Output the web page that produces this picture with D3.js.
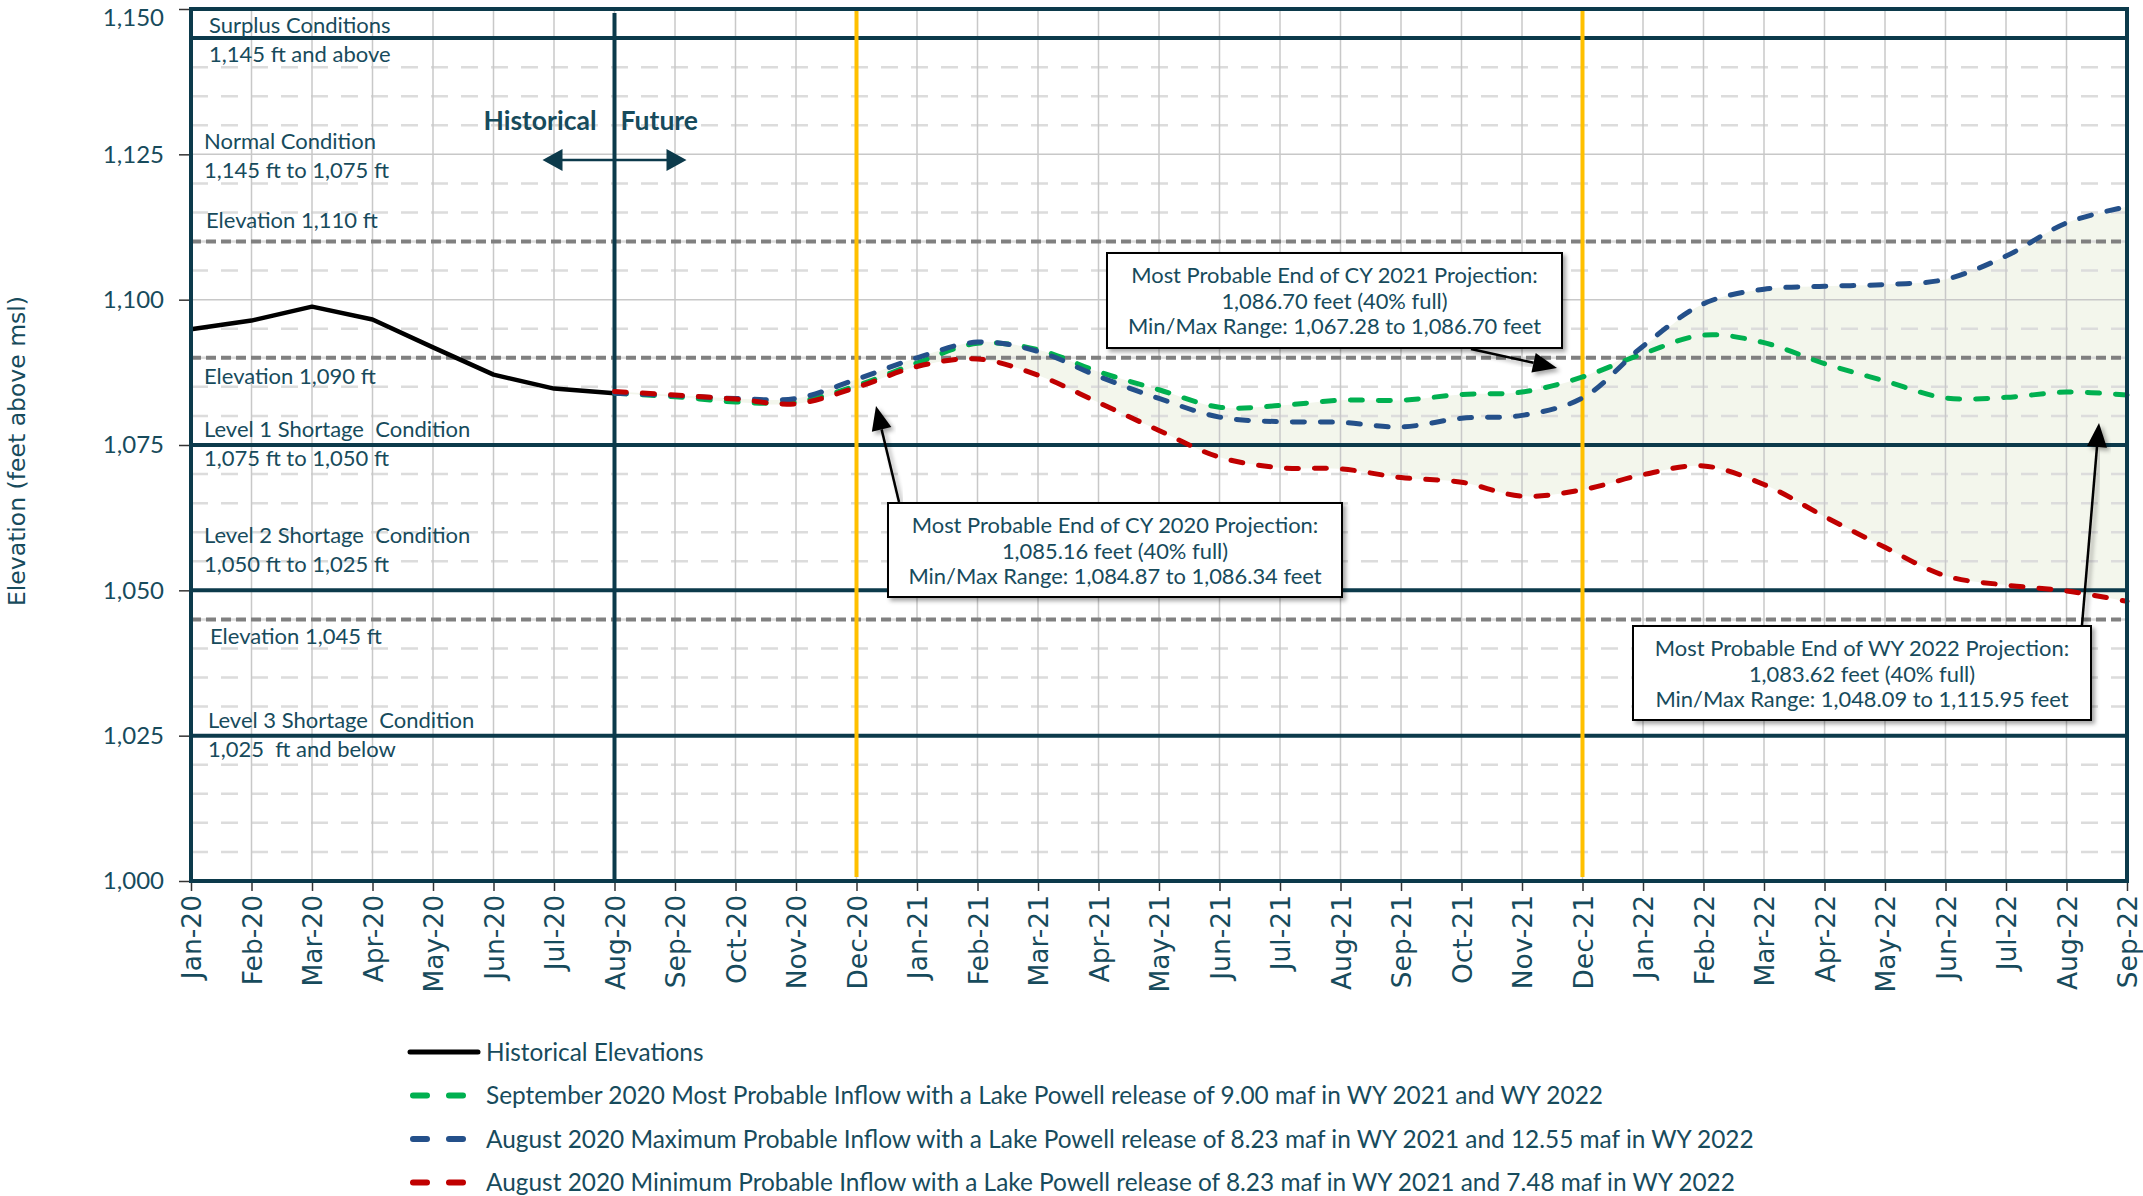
<!DOCTYPE html>
<html lang="en">
<head>
<meta charset="UTF-8">
<title>Lake Mead End of Month Elevations</title>
<style>
  html, body { margin: 0; padding: 0; background: #fff; }
  svg { display: block; }
  text { font-family: Lato, "Open Sans", sans-serif; fill: #174b5c; }
</style>
</head>
<body>
<svg id="chart" width="2143" height="1196"></svg>
<script src="https://d3js.org/d3.v7.min.js"></script>
<script>
var months = ["Jan-20", "Feb-20", "Mar-20", "Apr-20", "May-20", "Jun-20", "Jul-20", "Aug-20",
  "Sep-20", "Oct-20", "Nov-20", "Dec-20", "Jan-21", "Feb-21", "Mar-21", "Apr-21", "May-21",
  "Jun-21", "Jul-21", "Aug-21", "Sep-21", "Oct-21", "Nov-21", "Dec-21", "Jan-22", "Feb-22",
  "Mar-22", "Apr-22", "May-22", "Jun-22", "Jul-22", "Aug-22", "Sep-22"];

// Jan-20 .. Aug-20
var historical = [1094.9, 1096.4, 1098.8, 1096.6, 1091.8, 1087.1, 1084.7, 1083.9];

// Aug-20 .. Sep-22
var mostProbable = [1083.9, 1083.3, 1082.4, 1082.4, 1085.2, 1089.1, 1092.5, 1091.4, 1087.6, 1084.5,
  1081.5, 1081.8, 1082.7, 1082.7, 1083.7, 1084.1, 1086.7, 1090.7, 1093.9, 1092.6, 1089.0, 1086.0,
  1083.1, 1083.2, 1084.1, 1083.6];
var maxProbable = [1083.9, 1083.5, 1083.0, 1083.0, 1086.3, 1090.0, 1092.7, 1091.1, 1086.8, 1083.0,
  1079.8, 1079.0, 1078.9, 1078.1, 1079.6, 1080.1, 1083.1, 1092.0, 1099.3, 1101.8, 1102.3, 1102.6,
  1103.5, 1107.5, 1113.2, 1116.0];
var minProbable = [1084.2, 1083.6, 1082.9, 1082.1, 1084.9, 1088.5, 1089.8, 1087.0, 1082.3, 1077.5,
  1072.9, 1071.1, 1070.9, 1069.4, 1068.6, 1066.2, 1067.3, 1069.9, 1071.4, 1068.2, 1062.7, 1057.4,
  1052.5, 1050.9, 1049.9, 1048.1];

var yTicks = [1000, 1025, 1050, 1075, 1100, 1125, 1150];
var conditionLevels = [1145, 1075, 1050, 1025];
var referenceLevels = [1110, 1090, 1045];

var seriesNames = [
  "Historical Elevations",
  "September 2020 Most Probable Inflow with a Lake Powell release of 9.00 maf in WY 2021 and WY 2022",
  "August 2020 Maximum Probable Inflow with a Lake Powell release of 8.23 maf in WY 2021 and 12.55 maf in WY 2022",
  "August 2020 Minimum Probable Inflow with a Lake Powell release of 8.23 maf in WY 2021 and 7.48 maf in WY 2022"
];

var conditionText = [
  ["Surplus Conditions", "1,145 ft and above"],
  ["Normal Condition", "1,145 ft to 1,075 ft"],
  ["Elevation 1,110 ft"],
  ["Elevation 1,090 ft"],
  ["Level 1 Shortage  Condition", "1,075 ft to 1,050 ft"],
  ["Level 2 Shortage  Condition", "1,050 ft to 1,025 ft"],
  ["Elevation 1,045 ft"],
  ["Level 3 Shortage  Condition", "1,025  ft and below"]
];

var boxText = [
  ["Most Probable End of CY 2021 Projection:", "1,086.70 feet (40% full)", "Min/Max Range: 1,067.28 to 1,086.70 feet"],
  ["Most Probable End of CY 2020 Projection:", "1,085.16 feet (40% full)", "Min/Max Range: 1,084.87 to 1,086.34 feet"],
  ["Most Probable End of WY 2022 Projection:", "1,083.62 feet (40% full)", "Min/Max Range: 1,048.09 to 1,115.95 feet"]
];

(function() {
  var teal = "#0c3a4b";
  var svg = d3.select("#chart");
  var margin = {top: 9, left: 191, right: 16, bottom: 315};
  var width = 2143 - margin.left - margin.right;
  var height = 1196 - margin.top - margin.bottom;

  var defs = svg.append("defs");
  var f = defs.append("filter").attr("id", "shadow").attr("x", "-10%").attr("y", "-10%")
    .attr("width", "130%").attr("height", "140%");
  f.append("feDropShadow").attr("dx", 3).attr("dy", 3).attr("stdDeviation", 2)
    .attr("flood-color", "#000").attr("flood-opacity", 0.35);

  var g = svg.append("g").attr("transform", "translate(" + margin.left + "," + margin.top + ")");

  var x = d3.scalePoint().domain(months).range([0, width]);
  var y = d3.scaleLinear().domain([1000, 1150]).range([height, 0]);

  var proj = months.slice(7).map(function(m, i) {
    return {m: m, most: mostProbable[i], max: maxProbable[i], min: minProbable[i]};
  });
  var hist = months.slice(0, 8).map(function(m, i) { return {m: m, v: historical[i]}; });

  var curve = d3.curveCatmullRom.alpha(0.5);

  // shaded min/max band
  g.append("path")
    .datum(proj)
    .attr("fill", "#f3f6ec")
    .attr("d", d3.area().curve(curve)
      .x(function(d) { return x(d.m); })
      .y0(function(d) { return y(Math.min(d.most, d.max, d.min)); })
      .y1(function(d) { return y(Math.max(d.most, d.max, d.min)); }));

  // grid
  g.append("g").selectAll("line").data(d3.range(1005, 1150, 5).filter(function(v) { return v % 25 !== 0; }))
    .enter().append("line")
    .attr("x1", 0).attr("x2", width)
    .attr("y1", function(d) { return y(d); }).attr("y2", function(d) { return y(d); })
    .attr("stroke", "#dcdcdc").attr("stroke-width", 2.5).attr("stroke-dasharray", "17,13");

  g.append("g").selectAll("line").data(yTicks.slice(1, -1))
    .enter().append("line")
    .attr("x1", 0).attr("x2", width)
    .attr("y1", function(d) { return y(d); }).attr("y2", function(d) { return y(d); })
    .attr("stroke", "#c8c8c8").attr("stroke-width", 1.5);

  g.append("g").selectAll("line").data(months.slice(1, -1))
    .enter().append("line")
    .attr("x1", function(d) { return x(d); }).attr("x2", function(d) { return x(d); })
    .attr("y1", 0).attr("y2", height)
    .attr("stroke", "#c8c8c8").attr("stroke-width", 1.5);

  // reference elevations
  g.append("g").selectAll("line").data(referenceLevels)
    .enter().append("line")
    .attr("x1", 0).attr("x2", width)
    .attr("y1", function(d) { return y(d); }).attr("y2", function(d) { return y(d); })
    .attr("stroke", "#808080").attr("stroke-width", 4).attr("stroke-dasharray", "10,5");

  // condition lines
  g.append("g").selectAll("line").data(conditionLevels)
    .enter().append("line")
    .attr("x1", 0).attr("x2", width)
    .attr("y1", function(d) { return y(d); }).attr("y2", function(d) { return y(d); })
    .attr("stroke", teal).attr("stroke-width", 4);

  // historical / future split and year-end markers
  g.append("line")
    .attr("x1", x("Aug-20")).attr("x2", x("Aug-20")).attr("y1", 4).attr("y2", height)
    .attr("stroke", teal).attr("stroke-width", 4);
  g.append("g").selectAll("line").data(["Dec-20", "Dec-21"])
    .enter().append("line")
    .attr("x1", function(d) { return x(d); }).attr("x2", function(d) { return x(d); })
    .attr("y1", 0).attr("y2", height - 4)
    .attr("stroke", "#ffc000").attr("stroke-width", 4);

  // series
  g.append("path").datum(hist)
    .attr("fill", "none").attr("stroke", "#000").attr("stroke-width", 4.5)
    .attr("stroke-linejoin", "round")
    .attr("d", d3.line().x(function(d) { return x(d.m); }).y(function(d) { return y(d.v); }));

  var series = [
    {key: "most", color: "#00b050"},
    {key: "max", color: "#24508a"},
    {key: "min", color: "#c00000"}
  ];
  series.forEach(function(s) {
    g.append("path").datum(proj)
      .attr("fill", "none").attr("stroke", s.color).attr("stroke-width", 5)
      .attr("stroke-linecap", "round").attr("stroke-dasharray", "12,16")
      .attr("d", d3.line().curve(curve)
        .x(function(d) { return x(d.m); })
        .y(function(d) { return y(d[s.key]); }));
  });

  // condition labels
  var labelLayout = [
    {at: 1145, dx: 18, dy: [-5, 24]},
    {at: 1125, dx: 13, dy: [-5, 24]},
    {at: 1110, dx: 15, dy: [-14]},
    {at: 1090, dx: 13, dy: [26]},
    {at: 1075, dx: 13, dy: [-8, 21]},
    {at: 1050, dx: 13, dy: [-47, -18]},
    {at: 1045, dx: 19, dy: [25]},
    {at: 1025, dx: 17, dy: [-8, 21]}
  ];
  conditionText.forEach(function(lines, i) {
    var l = labelLayout[i];
    lines.forEach(function(t, j) {
      g.append("text")
        .attr("x", l.dx).attr("y", y(l.at) + l.dy[j])
        .style("white-space", "pre")
        .style("font-size", "22px")
        .text(t);
    });
  });

  // historical / future
  g.append("text").attr("x", x("Aug-20") - 18).attr("y", 121)
    .attr("text-anchor", "end").style("font-size", "26.5px").style("font-weight", "bold")
    .text("Historical");
  g.append("text").attr("x", x("Aug-20") + 6).attr("y", 121)
    .style("font-size", "26.5px").style("font-weight", "bold")
    .text("Future");
  var ax0 = x("Aug-20") - 72, ax1 = x("Aug-20") + 72, ay = 151;
  g.append("line").attr("x1", ax0 + 10).attr("x2", ax1 - 10).attr("y1", ay).attr("y2", ay)
    .attr("stroke", teal).attr("stroke-width", 2.5);
  g.append("path")
    .attr("d", "M" + ax0 + "," + ay + "l20,-11v22z M" + ax1 + "," + ay + "l-20,-11v22z")
    .attr("fill", teal);

  // callout boxes
  var boxes = [
    {x: 1107, y: 253, w: 455, h: 95, from: [1471, 349], to: [1557, 368]},
    {x: 888, y: 503, w: 454, h: 94, from: [899, 502], to: [876, 406]},
    {x: 1633, y: 626, w: 458, h: 94, from: [2082, 625], to: [2099, 423]}
  ];
  boxes.forEach(function(b, i) {
    var dxa = b.to[0] - b.from[0], dya = b.to[1] - b.from[1];
    var len = Math.sqrt(dxa * dxa + dya * dya);
    var ux = dxa / len, uy = dya / len;
    var bx = b.to[0] - ux * 24, by = b.to[1] - uy * 24;
    svg.append("line")
      .attr("x1", b.from[0]).attr("y1", b.from[1]).attr("x2", bx).attr("y2", by)
      .attr("stroke", "#000").attr("stroke-width", 2.5).attr("filter", "url(#shadow)");
    svg.append("path")
      .attr("d", "M" + b.to[0] + "," + b.to[1] +
        "L" + (bx - uy * 10) + "," + (by + ux * 10) +
        "L" + (bx + uy * 10) + "," + (by - ux * 10) + "Z")
      .attr("fill", "#000").attr("filter", "url(#shadow)");
    svg.append("rect")
      .attr("x", b.x).attr("y", b.y).attr("width", b.w).attr("height", b.h)
      .attr("fill", "#fff").attr("stroke", "#000").attr("stroke-width", 2)
      .attr("filter", "url(#shadow)");
    boxText[i].forEach(function(t, j) {
      svg.append("text")
        .attr("x", b.x + b.w / 2).attr("y", b.y + 30 + j * 25.5)
        .attr("text-anchor", "middle").style("font-size", "21.9px")
        .text(t);
    });
  });

  // axes
  var yAxis = g.append("g").call(d3.axisLeft(y).tickValues(yTicks).tickFormat(d3.format(",")).tickSize(12));
  yAxis.select(".domain").remove();
  yAxis.selectAll(".tick line").attr("stroke", "#333").attr("stroke-width", 1.5);
  yAxis.selectAll(".tick text").attr("x", -27)
    .attr("dy", function(d) { return d === 1150 ? "0.68em" : "0.32em"; })
    .style("font-family", "Lato, sans-serif").style("font-size", "24px").attr("fill", "#174b5c");

  var xAxis = g.append("g").attr("transform", "translate(0," + height + ")")
    .call(d3.axisBottom(x).tickSize(10));
  xAxis.select(".domain").remove();
  xAxis.selectAll(".tick line").attr("stroke", "#333").attr("stroke-width", 1.5);
  xAxis.selectAll(".tick text")
    .attr("transform", "rotate(-90)")
    .attr("x", -14).attr("y", 0).attr("dy", "0.36em")
    .attr("text-anchor", "end")
    .style("font-family", "'DejaVu Sans', Verdana, sans-serif").style("font-size", "26.5px")
    .attr("fill", "#174b5c");

  // frame
  g.append("rect").attr("x", 0).attr("y", 0).attr("width", width).attr("height", height)
    .attr("fill", "none").attr("stroke", teal).attr("stroke-width", 4);

  svg.append("text")
    .attr("transform", "translate(25," + (margin.top + height / 2 + 6) + ") rotate(-90)")
    .attr("text-anchor", "middle")
    .style("font-family", "'DejaVu Sans', Verdana, sans-serif").style("font-size", "23.5px")
    .text("Elevation (feet above msl)");

  // legend
  var legend = svg.append("g").attr("transform", "translate(410,1052)");
  var legendStyle = [
    {color: "#000", dash: null, len: 68},
    {color: "#00b050", dash: "14,22", len: 58},
    {color: "#24508a", dash: "14,22", len: 58},
    {color: "#c00000", dash: "14,22", len: 58}
  ];
  seriesNames.forEach(function(name, i) {
    var row = legend.append("g").attr("transform", "translate(0," + (i * 43.5) + ")");
    var s = legendStyle[i];
    row.append("line").attr("x1", s.dash ? 3 : 0).attr("x2", s.len).attr("y1", 0).attr("y2", 0)
      .attr("stroke", s.color).attr("stroke-width", s.dash ? 6 : 5)
      .attr("stroke-linecap", "round")
      .attr("stroke-dasharray", s.dash);
    row.append("text").attr("x", 76).attr("dy", "0.36em")
      .style("font-size", "24.4px").text(name);
  });
})();
</script>
</body>
</html>
